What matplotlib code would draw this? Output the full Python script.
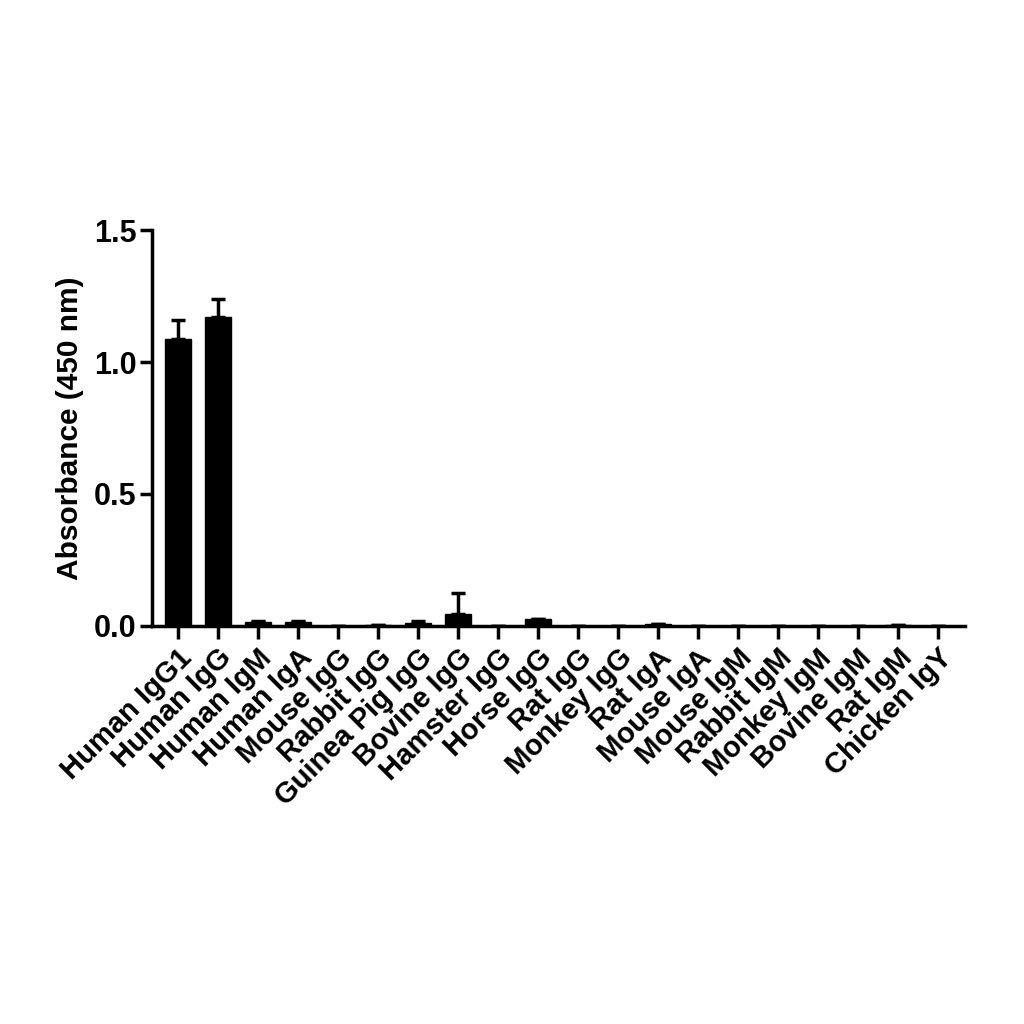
import numpy as np
import matplotlib.pyplot as plt

plt.rcParams["font.family"] = ["Liberation Sans", "DejaVu Sans"]
plt.rcParams["font.weight"] = "bold"

categories = ["Human IgG1", "Human IgG", "Human IgM", "Human IgA", "Mouse IgG",
              "Rabbit IgG", "Guinea Pig IgG", "Bovine IgG", "Hamster IgG", "Horse IgG",
              "Rat IgG", "Monkey IgG", "Rat IgA", "Mouse IgA", "Mouse IgM",
              "Rabbit IgM", "Monkey IgM", "Bovine IgM", "Rat IgM", "Chicken IgY"]
means = [1.087, 1.170, 0.015, 0.015, 0.0, 0.003, 0.010, 0.045, 0.0, 0.025,
         0.0, 0.0, 0.005, 0.0, 0.0, 0.0, 0.0, 0.0, 0.003, 0.0]
errs = [0.072, 0.069, 0.003, 0.003, 0.0, 0.001, 0.008, 0.080, 0.0, 0.002,
        0.0, 0.0, 0.002, 0.0, 0.0, 0.0, 0.0, 0.0, 0.001, 0.0]

fig = plt.figure(figsize=(10.24, 10.24), dpi=100)
ax = fig.add_axes([0.148, 0.389, 0.794, 0.386])

x = np.arange(len(categories))
ax.bar(x, means, width=0.65, color="black", edgecolor="black", linewidth=1)
ax.errorbar(x, means, yerr=[np.zeros(len(errs)), errs], fmt="none",
            ecolor="black", elinewidth=2.5, capsize=5, capthick=2.5)

ax.set_xlim(-0.65, 19.675)
ax.set_ylim(0, 1.5)
ax.set_yticks([0.0, 0.5, 1.0, 1.5])
ax.set_yticklabels(["0.0", "0.5", "1.0", "1.5"])
ax.set_xticks(x)
ax.set_xticklabels(categories, rotation=45, ha="right", rotation_mode="anchor")
ax.set_ylabel("Absorbance (450 nm)", fontsize=21.5, fontweight="bold", labelpad=7)

for s in ["top", "right"]:
    ax.spines[s].set_visible(False)
for s in ["left", "bottom"]:
    ax.spines[s].set_linewidth(2.5)
ax.tick_params(axis="both", width=2.5, length=9, direction="out")
ax.tick_params(axis="y", labelsize=22, pad=2)
ax.tick_params(axis="x", labelsize=21, pad=4)

fig.savefig("out.png", dpi=100)
